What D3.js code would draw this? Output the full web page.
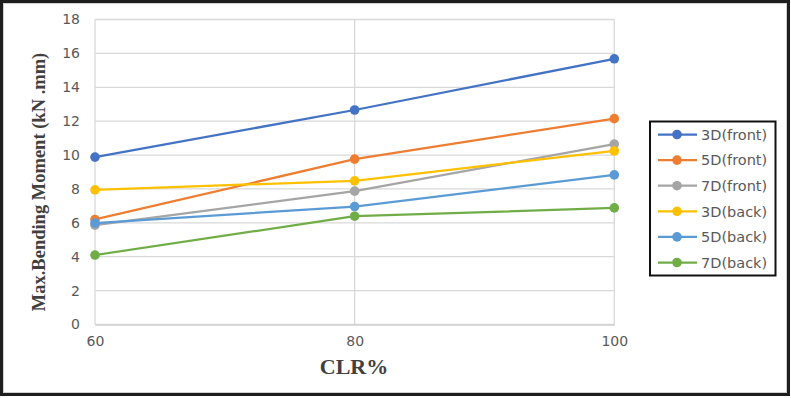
<!DOCTYPE html>
<html><head><meta charset="utf-8">
<script src="https://cdn.jsdelivr.net/npm/d3@7"></script>
<style>body{margin:0;background:#fff}svg{display:block}</style>
</head><body>
<svg id="c" width="791" height="398"></svg>
<script>
const categories = [60, 80, 100];
const seriesNames = ["3D(front)", "5D(front)", "7D(front)", "3D(back)", "5D(back)", "7D(back)"];
const s3DFront = [9.88, 12.66, 15.68];
const s5DFront = [6.2, 9.76, 12.15];
const s7DFront = [5.86, 7.87, 10.65];
const s3DBack = [7.95, 8.48, 10.24];
const s5DBack = [5.99, 6.96, 8.83];
const s7DBack = [4.1, 6.39, 6.88];
const yTicks = [0, 2, 4, 6, 8, 10, 12, 14, 16, 18];
const colors = ["#4472C4", "#ED7D31", "#A5A5A5", "#FFC000", "#5B9BD5", "#70AD47"];
const seriesValues = [s3DFront, s5DFront, s7DFront, s3DBack, s5DBack, s7DBack];

const svg = d3.select("#c");
// outer border
svg.append("rect").attr("x", 1.5).attr("y", 1.5).attr("width", 787).attr("height", 393)
  .attr("fill", "#fff").attr("stroke", "#1e1e1e").attr("stroke-width", 3);
svg.append("rect").attr("x", 3.5).attr("y", 3.5).attr("width", 783).attr("height", 389)
  .attr("fill", "none").attr("stroke", "#d0d0d0").attr("stroke-width", 1);

const x = d3.scaleLinear().domain([60, 100]).range([95, 614.3]);
const y = d3.scaleLinear().domain([0, 18]).range([324.5, 19.5]);

const tickFont = "'DejaVu Sans', sans-serif";
const g = svg.append("g");
// horizontal gridlines
g.selectAll("line.h").data(yTicks).join("line")
  .attr("x1", x(60)).attr("x2", x(100))
  .attr("y1", d => y(d)).attr("y2", d => y(d))
  .attr("stroke", "#d9d9d9").attr("stroke-width", 1.3);
// vertical gridlines
g.selectAll("line.v").data(categories).join("line")
  .attr("x1", d => x(d)).attr("x2", d => x(d))
  .attr("y1", y(0)).attr("y2", y(18))
  .attr("stroke", "#d9d9d9").attr("stroke-width", 1.3);

// axes
const yAxis = d3.axisLeft(y).tickValues(yTicks).tickSize(0).tickPadding(15);
const ya = svg.append("g").attr("transform", `translate(${x(60)},0)`).call(yAxis);
ya.select(".domain").remove();
ya.selectAll("text").attr("fill", "#595959").style("font-family", tickFont).style("font-size", "14px");

const xAxis = d3.axisBottom(x).tickValues(categories).tickSize(0).tickPadding(12).tickFormat(d3.format("d"));
const xa = svg.append("g").attr("transform", `translate(0,${y(0)})`).call(xAxis);
xa.select(".domain").attr("stroke", "#d0d0d0").attr("stroke-width", 1.3);
xa.selectAll("text").attr("fill", "#595959").style("font-family", tickFont).style("font-size", "14px");

// lines
const line = d3.line().x((d, i) => x(categories[i])).y(d => y(d));
seriesValues.forEach((vals, k) => {
  svg.append("path").datum(vals).attr("d", line)
    .attr("fill", "none").attr("stroke", colors[k]).attr("stroke-width", 2.25);
  svg.selectAll(null).data(vals).join("circle")
    .attr("cx", (d, i) => x(categories[i])).attr("cy", d => y(d)).attr("r", 4.8)
    .attr("fill", colors[k]);
});

// axis titles
svg.append("text").attr("transform", "translate(45,182) rotate(-90)")
  .attr("text-anchor", "middle")
  .style("font-family", "'Liberation Serif', 'Times New Roman', serif").style("font-weight", "bold")
  .style("font-size", "18.5px").attr("fill", "#404040")
  .text("Max.Bending Moment (kN .mm)");
svg.append("text").attr("x", 354).attr("y", 374).attr("text-anchor", "middle")
  .style("font-family", "'Liberation Serif', 'Times New Roman', serif").style("font-weight", "bold")
  .style("font-size", "22px").attr("fill", "#404040")
  .text("CLR%");

// legend
const lg = svg.append("g");
lg.append("rect").attr("x", 650).attr("y", 121.5).attr("width", 125.5).attr("height", 154)
  .attr("fill", "#fff").attr("stroke", "#111").attr("stroke-width", 2);
seriesNames.forEach((name, k) => {
  const ly = 134.5 + k * 25.6;
  lg.append("line").attr("x1", 658).attr("x2", 697).attr("y1", ly).attr("y2", ly)
    .attr("stroke", colors[k]).attr("stroke-width", 2.25);
  lg.append("circle").attr("cx", 677).attr("cy", ly).attr("r", 4.8).attr("fill", colors[k]);
  lg.append("text").attr("x", 701).attr("y", ly).attr("dy", "0.36em")
    .style("font-family", tickFont).style("font-size", "14.5px")
    .attr("fill", "#595959").text(name);
});
</script>
</body></html>
